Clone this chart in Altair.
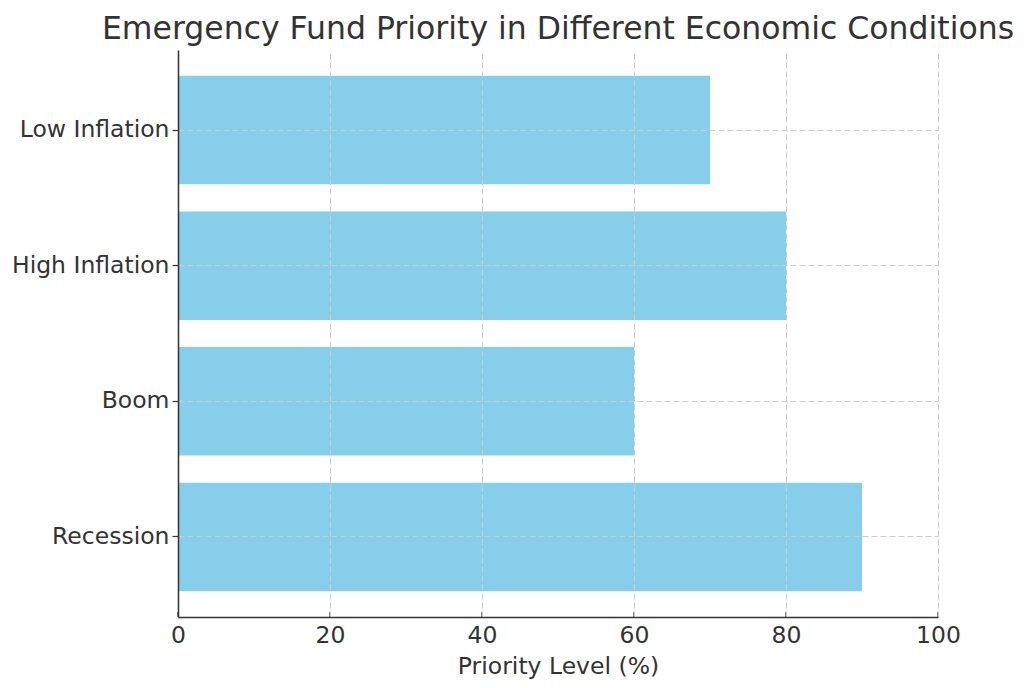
import altair as alt
import pandas as pd

conditions = ["Recession", "Boom", "High Inflation", "Low Inflation"]
priority = [90, 60, 80, 70]
x_ticks = [0, 20, 40, 60, 80, 100]

df = pd.DataFrame({"Condition": conditions, "Priority": priority})
ticks_df = pd.DataFrame({"t": x_ticks})

W, H = 760, 567
FONT = "DejaVu Sans"
TXT = "#333333"
FS = 23.5

xscale = alt.Scale(domain=[0, 100], nice=False, zero=True)

bars = alt.Chart(df).mark_bar(color="#87CEEB").encode(
    x=alt.X(
        "Priority:Q",
        scale=xscale,
        axis=alt.Axis(
            values=x_ticks,
            title="Priority Level (%)",
            titleFontSize=FS,
            titleFont=FONT,
            titleFontWeight="normal",
            titleColor=TXT,
            titlePadding=8,
            labelFontSize=FS,
            labelFont=FONT,
            labelColor=TXT,
            labelPadding=6,
            labelFlush=False,
            ticks=False,
            tickSize=0,
            domainColor="#333333",
            domainWidth=1.5,
            grid=True,
            gridColor="#cccccc",
            gridDash=[6, 3],
            gridWidth=1,
            zindex=1,
        ),
    ),
    y=alt.Y(
        "Condition:N",
        sort=conditions[::-1],
        scale=alt.Scale(paddingInner=0.2, paddingOuter=0.19),
        axis=alt.Axis(
            title=None,
            labelFontSize=FS,
            labelFont=FONT,
            labelColor=TXT,
            labelPadding=3,
            ticks=True,
            tickSize=6,
            tickColor="#333333",
            tickWidth=1.2,
            domainColor="#333333",
            domainWidth=1.5,
            grid=True,
            gridColor="#cccccc",
            gridDash=[6, 3],
            gridWidth=1,
            bandPosition=0.5,
            zindex=1,
        ),
    ),
)

xticks = alt.Chart(ticks_df).mark_rule(color="#333333", strokeWidth=1.2).encode(
    x=alt.X("t:Q", scale=xscale),
    y=alt.value(H),
    y2=alt.value(H - 5),
)

chart = (
    alt.layer(bars, xticks)
    .properties(
        width=W,
        height=H,
        title=alt.TitleParams(
            "Emergency Fund Priority in Different Economic Conditions",
            fontSize=31.5,
            font=FONT,
            fontWeight="normal",
            color=TXT,
            anchor="middle",
            offset=5,
        ),
        autosize=alt.AutoSizeParams(type="none"),
        padding={"left": 170, "top": 42, "right": 78, "bottom": 63},
    )
    .configure_view(stroke=None)
)

chart.save("out.html", embed_options={"renderer": "svg", "actions": False})
